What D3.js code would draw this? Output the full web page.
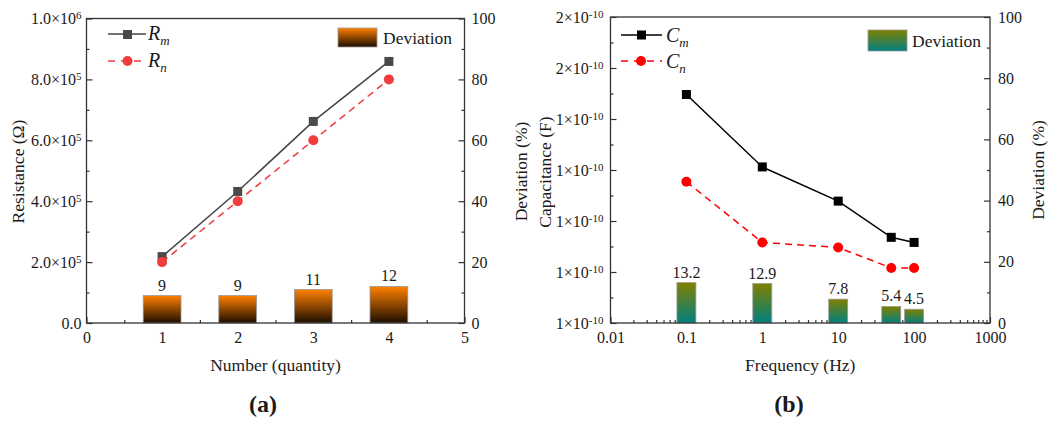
<!DOCTYPE html>
<html>
<head>
<meta charset="utf-8">
<script src="https://cdn.jsdelivr.net/npm/d3@7"></script>
<style>
  body { margin: 0; background: #fff; }
  svg text { font-family: "Liberation Serif", "Times New Roman", serif; fill: #1a1a1a; }
</style>
</head>
<body>
<svg id="chart" width="1054" height="424"></svg>
<script>
// ---- panel (a) data
const numbers = [1, 2, 3, 4];
const rMeasured = [2.18e5, 4.32e5, 6.62e5, 8.59e5];
const rNominal = [2.0e5, 4.0e5, 6.0e5, 8.0e5];
const rDeviation = [9, 9, 11, 12];
const numberTicks = [0, 1, 2, 3, 4, 5];
const rTicks = [0, 2e5, 4e5, 6e5, 8e5, 1e6];

// ---- panel (b) data
const freqs = [0.1, 1, 10, 50, 100];
const cMeasured = [1.448e-10, 1.306e-10, 1.239e-10, 1.168e-10, 1.158e-10];
const cNominal = [1.277e-10, 1.158e-10, 1.148e-10, 1.108e-10, 1.108e-10];
const cDeviation = [13.2, 12.9, 7.8, 5.4, 4.5];
const freqTicks = [0.01, 0.1, 1, 10, 100, 1000];
const cTicks = [1.0e-10, 1.1e-10, 1.2e-10, 1.3e-10, 1.4e-10, 1.5e-10, 1.6e-10];

// shared deviation axis
const devTicks = [0, 20, 40, 60, 80, 100];
const devMinor = [10, 30, 50, 70, 90];

const svg = d3.select('#chart');
const axisColor = '#333';
const tickFont = 16;

const defs = svg.append('defs');
function gradient(id, top, bottom) {
  const g = defs.append('linearGradient').attr('id', id)
    .attr('x1', 0).attr('y1', 0).attr('x2', 0).attr('y2', 1);
  g.append('stop').attr('offset', '0%').attr('stop-color', top);
  g.append('stop').attr('offset', '100%').attr('stop-color', bottom);
}
gradient('gradA', '#ff8000', '#1c0e00');
gradient('gradB', '#808000', '#008080');

function styleAxis(g) {
  g.select('.domain').remove();
  g.selectAll('line').attr('stroke', axisColor).attr('stroke-width', 1.2);
  g.selectAll('text').attr('font-size', tickFont).attr('fill', '#1a1a1a')
    .style('font-family', '"Liberation Serif", serif');
}

function supLabels(g, fmt) {
  g.selectAll('text').each(function(d) {
    const t = d3.select(this);
    const parts = fmt(d);
    t.text(parts[0]);
    if (parts[1] !== undefined) {
      t.append('tspan').attr('dy', '-0.45em').attr('font-size', 11).text(parts[1]);
    }
  });
}

function frame(x0, x1, y0, y1) {
  svg.append('rect')
    .attr('x', x0).attr('y', y0).attr('width', x1 - x0).attr('height', y1 - y0)
    .attr('fill', 'none').attr('stroke', axisColor).attr('stroke-width', 1.3);
}

function vTitle(x, y, text) {
  svg.append('text').attr('transform', `translate(${x},${y}) rotate(-90)`)
    .attr('text-anchor', 'middle').attr('dominant-baseline', 'central')
    .attr('font-size', 17.5).text(text);
}

function subText(x, y, main, sub) {
  const t = svg.append('text').attr('x', x).attr('y', y)
    .attr('font-size', 20).attr('font-style', 'italic');
  t.append('tspan').text(main);
  t.append('tspan').attr('dy', 5).attr('font-size', 13).text(sub);
}

// ================= panel (a)
const A = { left: 86.5, right: 464.5, top: 18.5, bottom: 323 };
const xA = d3.scaleLinear().domain([0, 5]).range([A.left, A.right]);
const yA = d3.scaleLinear().domain([0, 1e6]).range([A.bottom, A.top]);
const dA = d3.scaleLinear().domain([0, 100]).range([A.bottom, A.top]);

svg.append('g').attr('transform', `translate(0,${A.bottom})`)
  .call(d3.axisBottom(xA).tickValues(numberTicks).tickFormat(d3.format('d')).tickSize(-6).tickPadding(9))
  .call(styleAxis);
svg.append('g').attr('transform', `translate(0,${A.bottom})`)
  .call(d3.axisBottom(xA).tickValues([0.5, 1.5, 2.5, 3.5, 4.5]).tickFormat('').tickSize(-3))
  .call(styleAxis);

svg.append('g').attr('transform', `translate(${A.left},0)`)
  .call(d3.axisLeft(yA).tickValues(rTicks).tickSize(-6).tickPadding(5))
  .call(styleAxis)
  .call(g => supLabels(g, d => {
    if (d === 0) return ['0.0'];
    const e = Math.floor(Math.log10(d) + 1e-9);
    return [(d / Math.pow(10, e)).toFixed(1) + '×10', String(e)];
  }));
svg.append('g').attr('transform', `translate(${A.left},0)`)
  .call(d3.axisLeft(yA).tickValues([1e5, 3e5, 5e5, 7e5, 9e5]).tickFormat('').tickSize(-3))
  .call(styleAxis);

svg.append('g').attr('transform', `translate(${A.right},0)`)
  .call(d3.axisRight(dA).tickValues(devTicks).tickSize(-6).tickPadding(7))
  .call(styleAxis);
svg.append('g').attr('transform', `translate(${A.right},0)`)
  .call(d3.axisRight(dA).tickValues(devMinor).tickFormat('').tickSize(-3))
  .call(styleAxis);

// bars (a)
const barsA = numbers.map((n, i) => ({ n, v: rDeviation[i] }));
svg.append('g').selectAll('rect').data(barsA).join('rect')
  .attr('x', d => xA(d.n - 0.25)).attr('width', d => xA(d.n + 0.25) - xA(d.n - 0.25))
  .attr('y', d => dA(d.v)).attr('height', d => dA(0) - dA(d.v))
  .attr('fill', 'url(#gradA)').attr('stroke', '#9a9a9a').attr('stroke-width', 0.8);
svg.append('g').selectAll('text').data(barsA).join('text')
  .attr('x', d => xA(d.n)).attr('y', d => dA(d.v) - 5)
  .attr('text-anchor', 'middle').attr('font-size', 16).text(d => d.v);

// lines (a)
const lineA = d3.line().x(d => xA(d[0])).y(d => yA(d[1]));
const rmPts = numbers.map((n, i) => [n, rMeasured[i]]);
const rnPts = numbers.map((n, i) => [n, rNominal[i]]);
svg.append('path').datum(rmPts).attr('d', lineA)
  .attr('fill', 'none').attr('stroke', '#444').attr('stroke-width', 1.5);
svg.append('g').selectAll('rect').data(rmPts).join('rect')
  .attr('x', d => xA(d[0]) - 4.5).attr('y', d => yA(d[1]) - 4.5)
  .attr('width', 9).attr('height', 9).attr('fill', '#4a4a4a');
svg.append('path').datum(rnPts).attr('d', lineA)
  .attr('fill', 'none').attr('stroke', '#f03c3c').attr('stroke-width', 1.5)
  .attr('stroke-dasharray', '7,5');
svg.append('g').selectAll('circle').data(rnPts).join('circle')
  .attr('cx', d => xA(d[0])).attr('cy', d => yA(d[1])).attr('r', 5)
  .attr('fill', '#f03c3c');

// legend (a)
svg.append('line').attr('x1', 108).attr('x2', 146).attr('y1', 34).attr('y2', 34)
  .attr('stroke', '#444').attr('stroke-width', 1.5);
svg.append('rect').attr('x', 123).attr('y', 30).attr('width', 9).attr('height', 9).attr('fill', '#4a4a4a');
subText(148, 40, 'R', 'm');
svg.append('line').attr('x1', 108).attr('x2', 146).attr('y1', 61).attr('y2', 61)
  .attr('stroke', '#f03c3c').attr('stroke-width', 1.5).attr('stroke-dasharray', '7,6');
svg.append('circle').attr('cx', 127.5).attr('cy', 61).attr('r', 5).attr('fill', '#f03c3c');
subText(148, 67, 'R', 'n');
svg.append('rect').attr('x', 338).attr('y', 28).attr('width', 39).attr('height', 19)
  .attr('fill', 'url(#gradA)').attr('stroke', '#9a9a9a').attr('stroke-width', 0.8);
svg.append('text').attr('x', 383).attr('y', 44).attr('font-size', 17.5).text('Deviation');

frame(A.left, A.right, A.top, A.bottom);

vTitle(18, 171.5, 'Resistance (Ω)');
vTitle(521, 171.5, 'Deviation (%)');
svg.append('text').attr('x', (A.left + A.right) / 2).attr('y', 371)
  .attr('text-anchor', 'middle').attr('font-size', 17.5).text('Number (quantity)');
svg.append('text').attr('x', 263).attr('y', 412)
  .attr('text-anchor', 'middle').attr('font-size', 24).attr('font-weight', 'bold').text('(a)');

// ================= panel (b)
const B = { left: 610.5, right: 990, top: 17, bottom: 323 };
const xB = d3.scaleLog().domain([0.01, 1000]).range([B.left, B.right]);
const yB = d3.scaleLinear().domain([1.0e-10, 1.6e-10]).range([B.bottom, B.top]);
const dB = d3.scaleLinear().domain([0, 100]).range([B.bottom, B.top]);

const freqMinor = [];
for (let e = -2; e < 3; e++) for (let k = 2; k < 10; k++) freqMinor.push(k * Math.pow(10, e));

svg.append('g').attr('transform', `translate(0,${B.bottom})`)
  .call(d3.axisBottom(xB).tickValues(freqTicks).tickFormat(d => String(d)).tickSize(-6).tickPadding(9))
  .call(styleAxis);
svg.append('g').attr('transform', `translate(0,${B.bottom})`)
  .call(d3.axisBottom(xB).tickValues(freqMinor).tickFormat('').tickSize(-3))
  .call(styleAxis);

const cMinor = cTicks.slice(0, -1).map(v => v + 0.05e-10);
svg.append('g').attr('transform', `translate(${B.left},0)`)
  .call(d3.axisLeft(yB).tickValues(cTicks).tickSize(-6).tickPadding(7))
  .call(styleAxis)
  .call(g => supLabels(g, d => [Math.round(d * 1e10 + 1e-6) + '×10', '-10']));
svg.append('g').attr('transform', `translate(${B.left},0)`)
  .call(d3.axisLeft(yB).tickValues(cMinor).tickFormat('').tickSize(-3))
  .call(styleAxis);

svg.append('g').attr('transform', `translate(${B.right},0)`)
  .call(d3.axisRight(dB).tickValues(devTicks).tickSize(-6).tickPadding(8))
  .call(styleAxis);
svg.append('g').attr('transform', `translate(${B.right},0)`)
  .call(d3.axisRight(dB).tickValues(devMinor).tickFormat('').tickSize(-3))
  .call(styleAxis);

// bars (b): quarter-decade wide on the log axis
const barsB = freqs.map((f, i) => ({ f, v: cDeviation[i] }));
const half = Math.pow(10, 0.125);
svg.append('g').selectAll('rect').data(barsB).join('rect')
  .attr('x', d => xB(d.f / half)).attr('width', d => xB(d.f * half) - xB(d.f / half))
  .attr('y', d => dB(d.v)).attr('height', d => dB(0) - dB(d.v))
  .attr('fill', 'url(#gradB)').attr('stroke', '#9a9a9a').attr('stroke-width', 0.8);
svg.append('g').selectAll('text').data(barsB).join('text')
  .attr('x', d => xB(d.f)).attr('y', d => dB(d.v) - 5)
  .attr('text-anchor', 'middle').attr('font-size', 16).text(d => d.v);

// lines (b)
const lineB = d3.line().x(d => xB(d[0])).y(d => yB(d[1]));
const cmPts = freqs.map((f, i) => [f, cMeasured[i]]);
const cnPts = freqs.map((f, i) => [f, cNominal[i]]);
svg.append('path').datum(cmPts).attr('d', lineB)
  .attr('fill', 'none').attr('stroke', '#000').attr('stroke-width', 1.5);
svg.append('g').selectAll('rect').data(cmPts).join('rect')
  .attr('x', d => xB(d[0]) - 4.5).attr('y', d => yB(d[1]) - 4.5)
  .attr('width', 9).attr('height', 9).attr('fill', '#000');
svg.append('path').datum(cnPts).attr('d', lineB)
  .attr('fill', 'none').attr('stroke', '#ff0000').attr('stroke-width', 1.5)
  .attr('stroke-dasharray', '7,5');
svg.append('g').selectAll('circle').data(cnPts).join('circle')
  .attr('cx', d => xB(d[0])).attr('cy', d => yB(d[1])).attr('r', 5)
  .attr('fill', '#ff0000');

// legend (b)
svg.append('line').attr('x1', 621).attr('x2', 662).attr('y1', 35).attr('y2', 35)
  .attr('stroke', '#000').attr('stroke-width', 1.5);
svg.append('rect').attr('x', 637).attr('y', 30.5).attr('width', 9).attr('height', 9).attr('fill', '#000');
subText(666, 42, 'C', 'm');
svg.append('line').attr('x1', 621).attr('x2', 662).attr('y1', 61).attr('y2', 61)
  .attr('stroke', '#ff0000').attr('stroke-width', 1.5).attr('stroke-dasharray', '7,6');
svg.append('circle').attr('cx', 641).attr('cy', 61).attr('r', 5).attr('fill', '#ff0000');
subText(666, 68, 'C', 'n');
svg.append('rect').attr('x', 868).attr('y', 30).attr('width', 39).attr('height', 21)
  .attr('fill', 'url(#gradB)').attr('stroke', '#9a9a9a').attr('stroke-width', 0.8);
svg.append('text').attr('x', 912).attr('y', 47).attr('font-size', 17.5).text('Deviation');

frame(B.left, B.right, B.top, B.bottom);

vTitle(545, 172, 'Capacitance (F)');
vTitle(1038, 170, 'Deviation (%)');
svg.append('text').attr('x', (B.left + B.right) / 2).attr('y', 371)
  .attr('text-anchor', 'middle').attr('font-size', 17.5).text('Frequency (Hz)');
svg.append('text').attr('x', 789).attr('y', 412)
  .attr('text-anchor', 'middle').attr('font-size', 24).attr('font-weight', 'bold').text('(b)');
</script>
</body>
</html>
